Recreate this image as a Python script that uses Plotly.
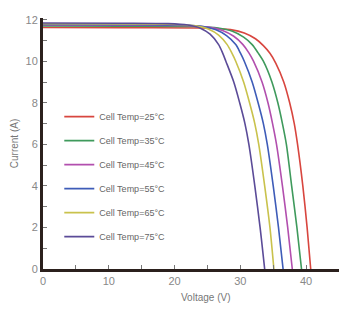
import plotly.graph_objects as go

# Legend labels and colours
labels = ["Cell Temp=25°C", "Cell Temp=35°C", "Cell Temp=45°C",
          "Cell Temp=55°C", "Cell Temp=65°C", "Cell Temp=75°C"]
colors = ["#d8463f", "#3f9a5c", "#b24fae", "#3e5cb8", "#c9c24c", "#5b4b98"]

# Voltage (V) for each curve, with matching current (A)
v25 = [0, 12, 25.5, 28.5, 30.6, 32.3, 33.5, 34.5, 35.4, 36.6, 37.5, 38.2, 38.7, 39.5, 40.15, 40.7]
i25 = [11.62, 11.61, 11.59, 11.52, 11.36, 11.08, 10.75, 10.38, 9.9, 9.0, 8.0, 7.0, 6.0, 4.0, 2.0, 0]

v35 = [0, 12, 23.6, 26.6, 28.8, 30.5, 31.8, 32.7, 33.5, 34.8, 35.7, 36.4, 37.0, 37.8, 38.6, 39.3]
i35 = [11.70, 11.69, 11.67, 11.60, 11.44, 11.16, 10.8, 10.4, 10.0, 9.0, 8.0, 7.0, 6.0, 4.0, 2.0, 0]

v45 = [0, 12, 22.2, 25.2, 27.3, 29.0, 30.4, 31.3, 32.0, 33.3, 34.2, 34.9, 35.5, 36.4, 37.2, 37.9]
i45 = [11.74, 11.73, 11.71, 11.64, 11.48, 11.20, 10.8, 10.4, 10.0, 9.0, 8.0, 7.0, 6.0, 4.0, 2.0, 0]

v55 = [0, 12, 21.3, 24.3, 26.3, 27.9, 29.3, 30.0, 30.6, 31.8, 32.7, 33.5, 34.1, 35.0, 35.8, 36.5]
i55 = [11.77, 11.76, 11.74, 11.67, 11.51, 11.23, 10.8, 10.4, 10.0, 9.0, 8.0, 7.0, 6.0, 4.0, 2.0, 0]

v65 = [0, 12, 20.2, 23.2, 25.2, 26.7, 28.0, 28.7, 29.3, 30.5, 31.4, 32.2, 32.8, 33.7, 34.5, 35.1]
i65 = [11.80, 11.79, 11.77, 11.70, 11.54, 11.26, 10.8, 10.4, 10.0, 9.0, 8.0, 7.0, 6.0, 4.0, 2.0, 0]

v75 = [0, 12, 19.0, 22.0, 24.0, 25.4, 26.7, 27.3, 27.8, 29.0, 29.9, 30.7, 31.3, 32.2, 33.0, 33.7]
i75 = [11.84, 11.83, 11.81, 11.74, 11.58, 11.30, 10.8, 10.4, 10.0, 9.0, 8.0, 7.0, 6.0, 4.0, 2.0, 0]

volts = [v25, v35, v45, v55, v65, v75]
currs = [i25, i35, i45, i55, i65, i75]

x_ticks = [0, 10, 20, 30, 40]
y_ticks = [0, 2, 4, 6, 8, 10, 12]

FONT = "Liberation Sans Narrow, Liberation Sans, Arial, sans-serif"
AXC = "#2b201d"

fig = go.Figure()
for k in range(6):
    fig.add_trace(go.Scatter(
        x=volts[k], y=currs[k], mode="lines", name=labels[k],
        legendgroup=f"g{k}",
        line=dict(color=colors[k], width=1.6, shape="spline", smoothing=0.8),
    ))

fig.update_layout(
    width=339, height=311,
    margin=dict(l=43, r=0, t=18, b=42),
    paper_bgcolor="white", plot_bgcolor="white",
    font=dict(family=FONT, size=11, color="#777"),
    showlegend=True,
    legend=dict(x=0.055, y=0.665, xanchor="left", yanchor="top",
                bgcolor="rgba(255,255,255,0)", borderwidth=0,
                font=dict(size=9, color="#666", family=FONT),
                tracegroupgap=5, itemwidth=30),
    xaxis=dict(range=[0, 45], tickvals=x_ticks, ticktext=[str(t) for t in x_ticks],
               ticks="inside", ticklen=4, tickwidth=1, tickcolor="#777",
               minor=dict(dtick=5, ticks="inside", ticklen=4, tickcolor="#777"),
               showline=True, linewidth=3, linecolor=AXC, showgrid=False,
               zeroline=False, tickfont=dict(size=11, color="#888")),
    yaxis=dict(range=[0, 12.08], tickvals=y_ticks, ticktext=[str(t) for t in y_ticks],
               ticks="inside", ticklen=4, tickwidth=1, tickcolor="#777",
               minor=dict(dtick=1, ticks="inside", ticklen=4, tickcolor="#777"),
               showline=True, linewidth=3, linecolor=AXC, showgrid=False,
               zeroline=False, tickfont=dict(size=11, color="#888"),
               title=dict(text="Current (A)", font=dict(size=10, color="#777"), standoff=6)),
)
fig.add_annotation(text="Voltage (V)", xref="paper", yref="paper",
                   x=(205 - 43) / 296, y=-0.115, yanchor="middle", showarrow=False,
                   font=dict(size=10, color="#777"))

fig.write_html("out.html", config={"displayModeBar": False},
               post_script="document.body.style.margin='0';document.body.style.padding='0';")
